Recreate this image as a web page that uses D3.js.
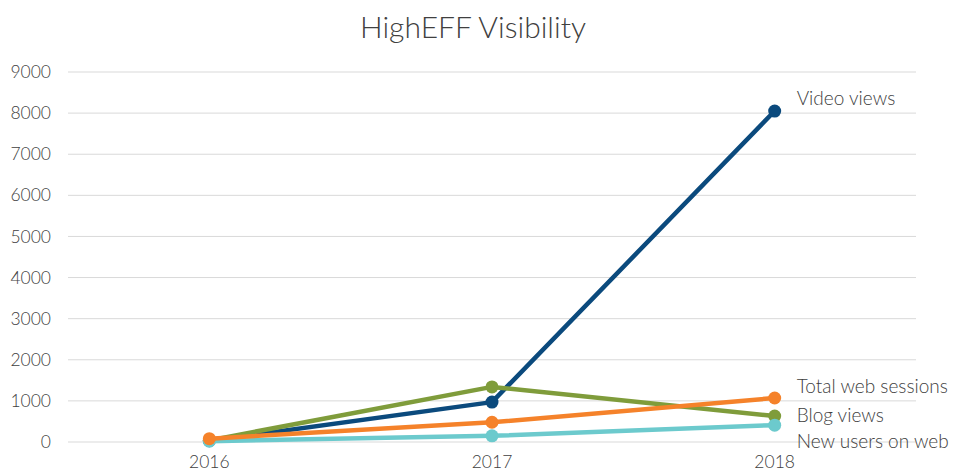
<!DOCTYPE html>
<html>
<head>
<meta charset="utf-8">
<script src="https://cdn.jsdelivr.net/npm/d3@7"></script>
<style>
  body { margin: 0; background: #fff; }
  text { font-family: Lato, "Open Sans", sans-serif; }
</style>
</head>
<body>
<svg id="chart" width="953" height="474"></svg>
<script>
// data
const years = ["2016", "2017", "2018"];
const seriesNames = ["Video views", "Blog views", "New users on web", "Total web sessions"];
const videoViews = [30, 970, 8050];
const blogViews = [40, 1340, 630];
const newUsers = [20, 150, 410];
const webSessions = [80, 480, 1070];
const yTicks = [0, 1000, 2000, 3000, 4000, 5000, 6000, 7000, 8000, 9000];

const colors = ["#0b4a7d", "#7f9c3b", "#6ccacd", "#f5822a"];
const allValues = [videoViews, blogViews, newUsers, webSessions];
const labelDy = [-13, -1, 16, -12]; // nudges for the end labels

const svg = d3.select("#chart");
const width = 953, height = 474;
const margin = { top: 72, right: 37, bottom: 32, left: 68 };

const x = d3.scalePoint()
    .domain(years)
    .range([margin.left, width - margin.right])
    .padding(0.5);

const y = d3.scaleLinear()
    .domain([0, 9000])
    .range([height - margin.bottom, margin.top]);

// title
svg.append("text")
    .attr("x", 473)
    .attr("y", 38)
    .attr("text-anchor", "middle")
    .attr("font-size", 30)
    .attr("font-weight", 300)
    .attr("fill", "#404040")
    .text("HighEFF Visibility");

// grid
svg.append("g")
    .selectAll("line")
    .data(yTicks)
    .join("line")
    .attr("x1", margin.left)
    .attr("x2", width - margin.right)
    .attr("y1", d => y(d))
    .attr("y2", d => y(d))
    .attr("stroke", "#d9d9d9")
    .attr("stroke-width", 1);

// y axis labels
svg.append("g")
    .selectAll("text")
    .data(yTicks)
    .join("text")
    .attr("x", 51)
    .attr("y", d => y(d))
    .attr("dy", "0.35em")
    .attr("text-anchor", "end")
    .attr("font-size", 17.5)
    .attr("font-weight", 300)
    .attr("fill", "#404040")
    .text(d => d);

// x axis labels
svg.append("g")
    .selectAll("text")
    .data(years)
    .join("text")
    .attr("x", d => x(d))
    .attr("y", 468)
    .attr("text-anchor", "middle")
    .attr("font-size", 17.5)
    .attr("font-weight", 300)
    .attr("fill", "#404040")
    .text(d => d);

const line = d3.line()
    .x((d, i) => x(years[i]))
    .y(d => y(d));

allValues.forEach((vals, k) => {
    const g = svg.append("g");
    g.append("path")
        .datum(vals)
        .attr("fill", "none")
        .attr("stroke", colors[k])
        .attr("stroke-width", 4.5)
        .attr("stroke-linejoin", "round")
        .attr("d", line);
    g.selectAll("circle")
        .data(vals)
        .join("circle")
        .attr("cx", (d, i) => x(years[i]))
        .attr("cy", d => y(d))
        .attr("r", 6.5)
        .attr("fill", colors[k]);
    // end label
    g.append("text")
        .attr("x", x(years[2]) + 22)
        .attr("y", y(vals[2]) + labelDy[k])
        .attr("dy", "0.35em")
        .attr("font-size", 19)
        .attr("font-weight", 300)
        .attr("fill", "#404040")
        .text(seriesNames[k]);
});
</script>
</body>
</html>
